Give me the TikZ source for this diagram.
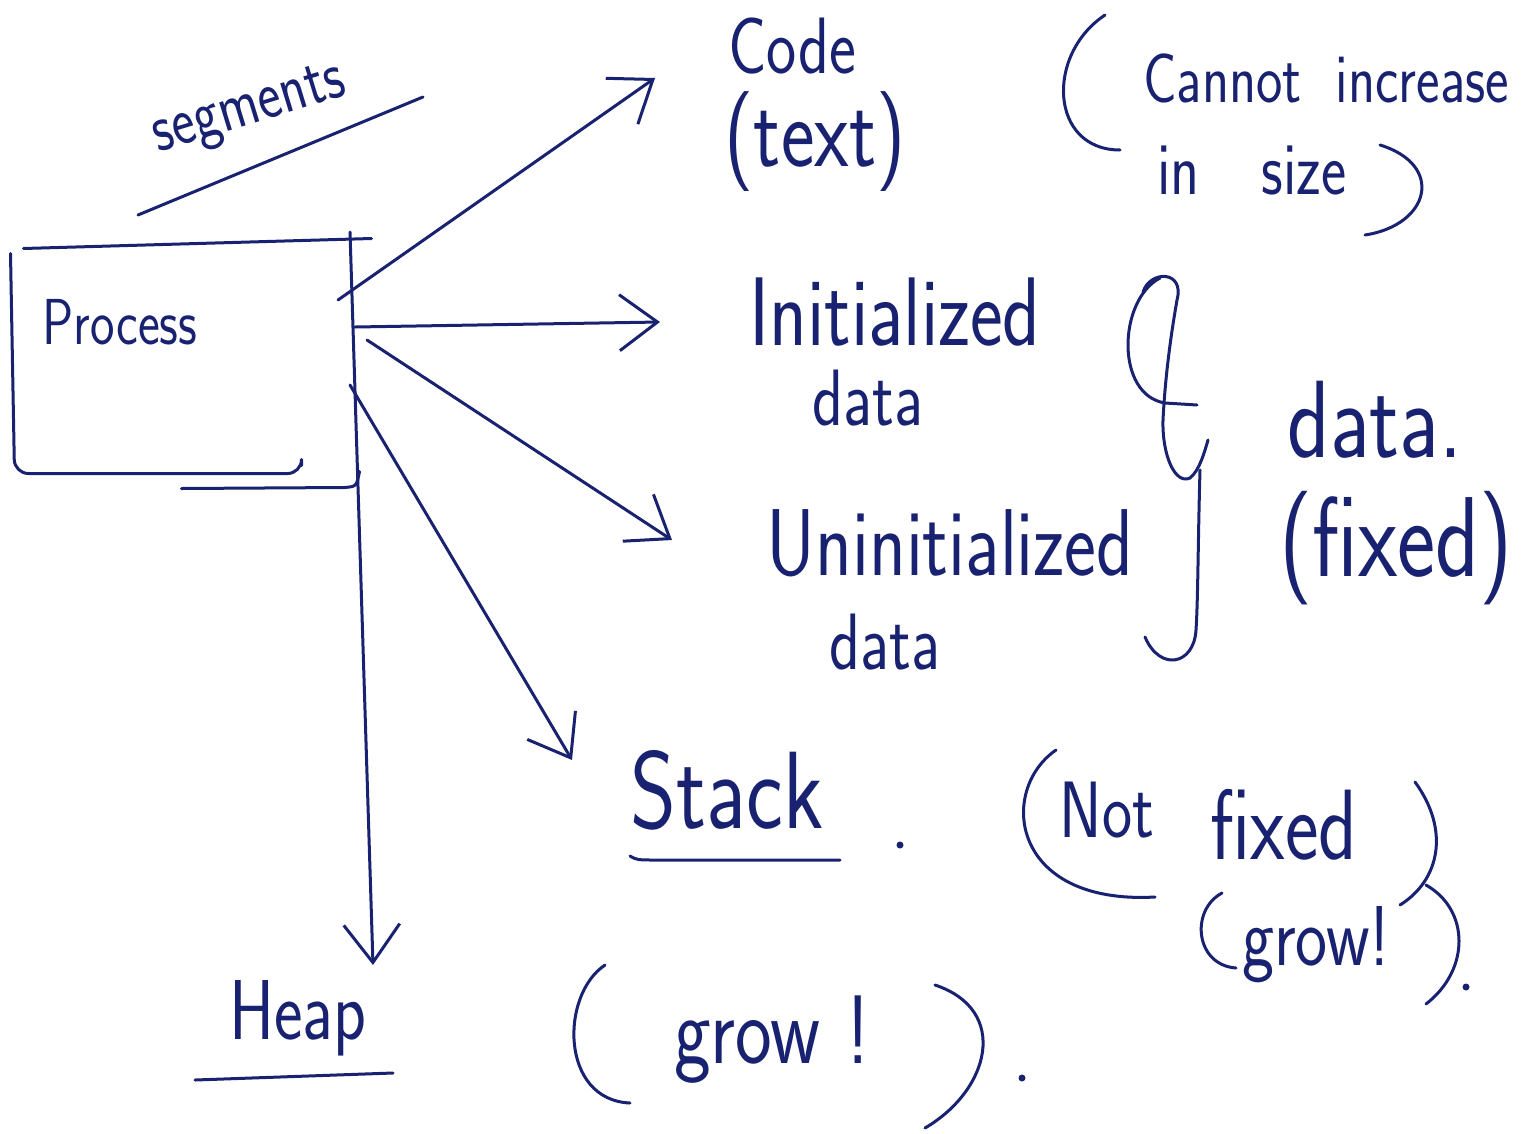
\documentclass[tikz,border=0pt]{standalone}
\usepackage{graphicx}
\usetikzlibrary{arrows.meta}
\definecolor{ink}{RGB}{24,34,112}
\newcommand\hw[2]{{\fontsize{#1}{#1}\selectfont\scalebox{1}[1.25]{#2}}}
\begin{document}
\begin{tikzpicture}[x=1pt,y=-1pt,color=ink,line width=3pt,line cap=round,line join=round,
  txt/.style={inner sep=0pt,font=\sffamily},
  arr/.style={-{Straight Barb[length=38pt,width=56pt]}},
  box/.style={minimum width=340pt,minimum height=226pt,inner sep=0pt}]
\fill[white] (0,0) rectangle (1528,1133);
\useasboundingbox (0,0) rectangle (1528,1133);

% process box
\node[box] (proc) at (185,363) {};
\draw ([shift={(10,0)}]proc.north west) -- ([shift={(15,-10)}]proc.north east);
\draw[rounded corners=14pt] ([shift={(-3,5)}]proc.north west) -- ([shift={(1,-4)}]proc.south west) -- ([shift={(-55,-4)}]proc.south east) -- ++(0,-8);
\draw ([shift={(-175,11)}]proc.south east) -- ([shift={(-12,10)}]proc.south east) .. controls ([shift={(0,9)}]proc.south east) .. ([shift={(3,-6)}]proc.south east);
\node[txt] (ptext) at (120,322) {\hw{52}{Process}};

% segments
\node[txt,rotate=17] (seg) at (250,112) {\hw{55}{segments}};
\draw ([shift={(-112,103)}]seg.center) -- ([shift={(173,-15)}]seg.center);

% targets
\node[txt] (code) at (792,46) {\hw{64}{Code}};
\node[txt] (codetxt) at (815,142) {\hw{80}{(text)}};
\node[txt] (cannot) at (1326,78) {\hw{56}{Cannot\hspace{34pt}increase}};
\node[txt] (insize) at (1252,170) {\hw{60}{in\hspace{62pt}size}};
\draw (1105,15) .. controls (1045,55) and (1050,150) .. (1120,150);
\draw (1380,145) .. controls (1445,165) and (1430,225) .. (1365,235);

\node[txt] (init) at (895,312) {\hw{78}{Initialized}};
\node[txt] (initdata) at (868,398) {\hw{64}{data}};
\node[txt] (uninit) at (950,543) {\hw{76}{Uninitialized}};
\node[txt] (uninitdata) at (885,642) {\hw{64}{data}};

% brace
\draw (1160,278) .. controls (1118,300) and (1115,395) .. (1165,403) -- (1197,405);
\draw (1143,292) .. controls (1150,270) and (1185,270) .. (1177,300) .. controls (1170,340) and (1165,380) .. (1163,420) .. controls (1162,455) and (1175,485) .. (1190,478) .. controls (1200,470) and (1205,450) .. (1208,440);
\draw (1200,470) .. controls (1198,540) and (1198,600) .. (1196,630) .. controls (1194,665) and (1160,672) .. (1145,637);

\node[txt] (bigdata) at (1375,420) {\hw{88}{data.}};
\node[txt] (fixed) at (1396,548) {\hw{91}{(fixed)}};

% stack
\node[txt] (stack) at (727,790) {\hw{88}{Stack}};
\draw ([shift={(-97,66)}]stack.center) .. controls ([shift={(-90,70)}]stack.center) .. ([shift={(-70,70)}]stack.center) -- ([shift={(113,70)}]stack.center);
\fill ([shift={(173,55)}]stack.center) circle (3.5pt);

\node[txt] (nottxt) at (1107,810) {\hw{64}{Not}};
\node[txt] (fixedtxt) at (1284,825) {\hw{80}{fixed}};
\draw (1056,750) .. controls (998,790) and (1010,905) .. (1155,897);
\draw (1415,782) .. controls (1450,830) and (1440,880) .. (1400,905);
\node[txt] (grow1) at (1316,945) {\hw{68}{grow!}};
\draw (1222,893) .. controls (1190,910) and (1195,965) .. (1236,968);
\draw (1426,885) .. controls (1470,910) and (1470,970) .. (1426,1004);
\fill (1466,987) circle (3.5pt);

% heap
\node[txt] (heap) at (298,1018) {\hw{68}{Heap}};
\draw ([shift={(-103,62)}]heap.center) -- ([shift={(95,55)}]heap.center);

\node[txt] (grow2) at (772,1040) {\hw{78}{grow\hspace{26pt}!}};
\draw (605,965) .. controls (560,995) and (560,1100) .. (630,1103);
\draw (935,985) .. controls (1010,1010) and (990,1090) .. (925,1128);
\fill (1022,1078) circle (3.5pt);

% connectors
\draw[arr] ([shift={(165,-131)}]proc.center) -- ([shift={(75,-53)}]heap.center);
\draw[arr] ([shift={(153,-63)}]proc.center) -- ([shift={(-137,32)}]code.center);
\draw[arr] ([shift={(170,-36)}]proc.center) -- ([shift={(-235,10)}]init.center);
\draw[arr] ([shift={(182,-23)}]proc.center) -- ([shift={(-278,-3)}]uninit.center);
\draw[arr] ([shift={(165,22)}]proc.center) -- ([shift={(-155,-30)}]stack.center);
\end{tikzpicture}
\end{document}
